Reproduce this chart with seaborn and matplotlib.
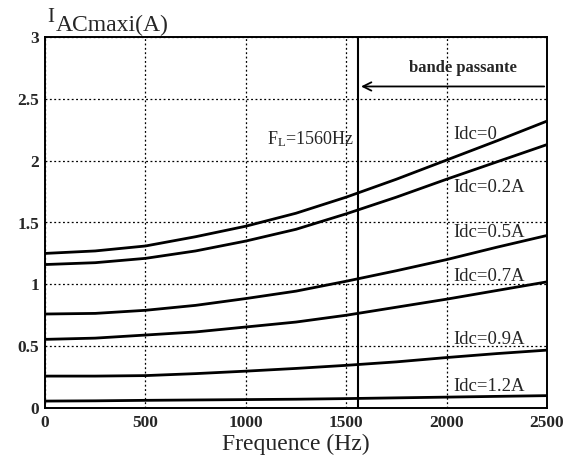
import numpy as np
import pandas as pd
import matplotlib
matplotlib.use("Agg")
import matplotlib.pyplot as plt
import seaborn as sns

freq = [0, 250, 500, 750, 1000, 1250, 1500, 1750, 2000, 2250, 2500]
idc_0 = [1.25, 1.27, 1.31, 1.385, 1.47, 1.575, 1.705, 1.85, 2.005, 2.16, 2.32]
idc_02 = [1.16, 1.175, 1.21, 1.27, 1.35, 1.445, 1.57, 1.705, 1.85, 1.99, 2.13]
idc_05 = [0.76, 0.765, 0.79, 0.83, 0.885, 0.945, 1.025, 1.11, 1.20, 1.30, 1.395]
idc_07 = [0.555, 0.565, 0.59, 0.615, 0.655, 0.695, 0.75, 0.815, 0.88, 0.95, 1.02]
idc_09 = [0.258, 0.258, 0.262, 0.278, 0.298, 0.32, 0.345, 0.373, 0.408, 0.44, 0.468]
idc_12 = [0.056, 0.058, 0.062, 0.065, 0.068, 0.071, 0.076, 0.082, 0.088, 0.094, 0.10]
series_names = ["Idc=0", "Idc=0.2A", "Idc=0.5A", "Idc=0.7A", "Idc=0.9A", "Idc=1.2A"]
label_y = [2.21, 1.78, 1.42, 1.06, 0.55, 0.17]
x_ticks = [0, 500, 1000, 1500, 2000, 2500]
y_ticks = [0, 0.5, 1, 1.5, 2, 2.5, 3]
y_tick_labels = ["0", "0.5", "1", "1.5", "2", "2.5", "3"]
f_l = 1560

rows = []
for name, vals in zip(series_names, [idc_0, idc_02, idc_05, idc_07, idc_09, idc_12]):
    for f, v in zip(freq, vals):
        rows.append({"freq": f, "I": v, "serie": name})
df = pd.DataFrame(rows)

sns.set_theme(style="white")
plt.rcParams["font.family"] = ["Liberation Serif", "DejaVu Serif"]
plt.rcParams["mathtext.fontset"] = "custom"
plt.rcParams["mathtext.rm"] = "Liberation Serif"
plt.rcParams["mathtext.it"] = "Liberation Serif"

fig = plt.figure(figsize=(5.79, 4.61), dpi=100)
ax = fig.add_axes([45 / 579, 1 - 408 / 461, 502 / 579, 371 / 461])

sns.lineplot(data=df, x="freq", y="I", hue="serie", palette=["black"] * 6,
             linewidth=2.0, legend=False, ax=ax)

ax.set_xlim(0, 2500)
ax.set_ylim(0, 3)
ax.set_xticks(x_ticks)
ax.set_yticks(y_ticks)
ax.set_yticklabels(y_tick_labels)
ax.tick_params(axis="both", which="both", direction="out", length=3, width=1,
               color="black", labelsize=12.5, pad=1)
ax.tick_params(axis="x", pad=2)
for lab in ax.get_xticklabels() + ax.get_yticklabels():
    lab.set_fontweight("bold")
ax.grid(True, linestyle=(0, (1.5, 2.0)), color="black", linewidth=0.9)
for s in ax.spines.values():
    s.set_color("black")
    s.set_linewidth(1.4)

ax.set_xlabel("Frequence (Hz)", fontsize=17, labelpad=2)
ax.set_ylabel("")

# F_L vertical line
ax.axvline(f_l, color="black", linewidth=1.5)
ax.text(f_l - 20, 2.17, r"$\mathrm{F_L}$=1560Hz", fontsize=13, ha="right", va="center")

# bande passante box
ax.annotate("", xy=(f_l, 2.6), xytext=(2500, 2.6),
            arrowprops=dict(arrowstyle="->", color="black", lw=1.3, mutation_scale=15))
ax.text(2080, 2.75, "bande passante", fontsize=12, fontweight="bold", ha="center", va="center")

for name, ly in zip(series_names, label_y):
    ax.text(2035, ly, name, fontsize=13.5, ha="left", va="center")

# y label
fig.text(47 / 579, 1 - 22 / 461, "I", fontsize=15, ha="left", va="baseline")
fig.text(56 / 579, 1 - 31 / 461, "ACmaxi(A)", fontsize=17, ha="left", va="baseline")

fig.savefig("out.png", dpi=100)
